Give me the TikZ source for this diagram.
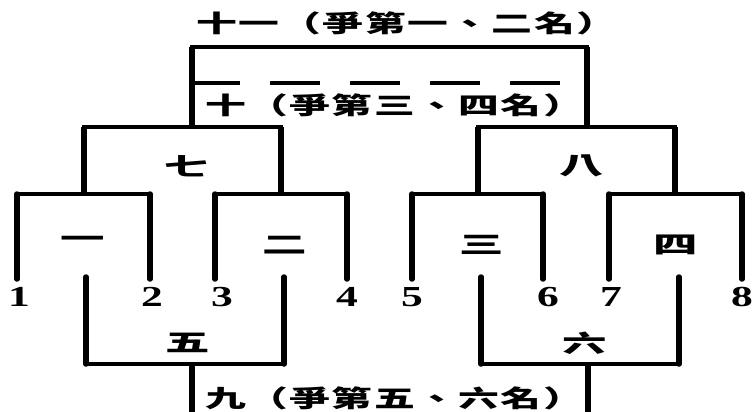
\documentclass[tikz,border=0pt]{standalone}
\usepackage{fontspec}
\setmainfont{Liberation Serif}[FakeStretch=1.5]
\newfontfamily\cjk{Noto Sans CJK TC}[FakeStretch=1.85]
\newfontfamily\cjkwide{Noto Sans CJK TC}[FakeStretch=1.7, LetterSpace=6]
\begin{document}
\begin{tikzpicture}[x=1pt, y=-1pt,
    hbar/.style={line width=3.8pt, line cap=rect},
    vbar/.style={line width=5.5pt},
    roundname/.style={font=\cjk\bfseries\fontsize{24}{24}\selectfont, inner sep=0pt},
    placing/.style={font=\cjkwide\bfseries\fontsize{24}{24}\selectfont, inner sep=0pt},
    seed/.style={font=\bfseries\fontsize{29}{29}\selectfont, inner sep=0pt}]
    \useasboundingbox (0,0) rectangle (753,412);

    % final and third place
    \draw[hbar] (192,47) -- (587,47);
    \draw[vbar] (192,47) -- (192,127);
    \draw[vbar] (587,47) -- (587,127);
    \draw[hbar, dash pattern=on 50pt off 30pt, line cap=butt] (190,83) -- (589,83);

    % semi finals
    \draw[hbar] (84,127) -- (281,127);
    \draw[vbar] (84,127) -- (84,194);
    \draw[vbar] (281,127) -- (281,194);
    \draw[hbar] (478,127) -- (675,127);
    \draw[vbar] (478,127) -- (478,194);
    \draw[vbar] (675,127) -- (675,194);

    % first round
    \foreach \a/\b in {17/150, 215/347, 412/543, 609/742} {
        \draw[hbar] (\a,194) -- (\b,194);
        \draw[vbar, line cap=round] (\a,194) -- (\a,279);
        \draw[vbar, line cap=round] (\b,194) -- (\b,279);
    }

    % losers bracket
    \draw[vbar, line cap=round] (86,277) -- (86,364);
    \draw[vbar, line cap=round] (284,277) -- (284,364);
    \draw[hbar] (86,364) -- (284,364);
    \draw[vbar] (192,364) -- (192,412);
    \draw[vbar, line cap=round] (481,277) -- (481,364);
    \draw[vbar, line cap=round] (679,277) -- (679,364);
    \draw[hbar] (481,364) -- (679,364);
    \draw[vbar] (588,364) -- (588,412);

    \foreach \x [count=\i] in {19,152,222,347,412,548,611,742}
        \node[seed] (s\i) at (\x,297) {\i};

    \node[roundname] (r1) at (83,242) {一};
    \node[roundname] (r2) at (285,245) {二};
    \node[roundname] (r3) at (482,245) {三};
    \node[roundname] (r4) at (676,245) {四};
    \node[roundname] (r5) at (188,343) {五};
    \node[roundname] (r6) at (585,343) {六};
    \node[roundname] (r7) at (187,166) {七};
    \node[roundname] (r8) at (582,166) {八};
    \node[placing, anchor=west] (r9) at (205,398) {九（爭第五、六名）};
    \node[placing, anchor=west] (r10) at (205,105) {十（爭第三、四名）};
    \node[placing, anchor=west] (r11) at (196,23) {十一（爭第一、二名）};
\end{tikzpicture}
\end{document}
